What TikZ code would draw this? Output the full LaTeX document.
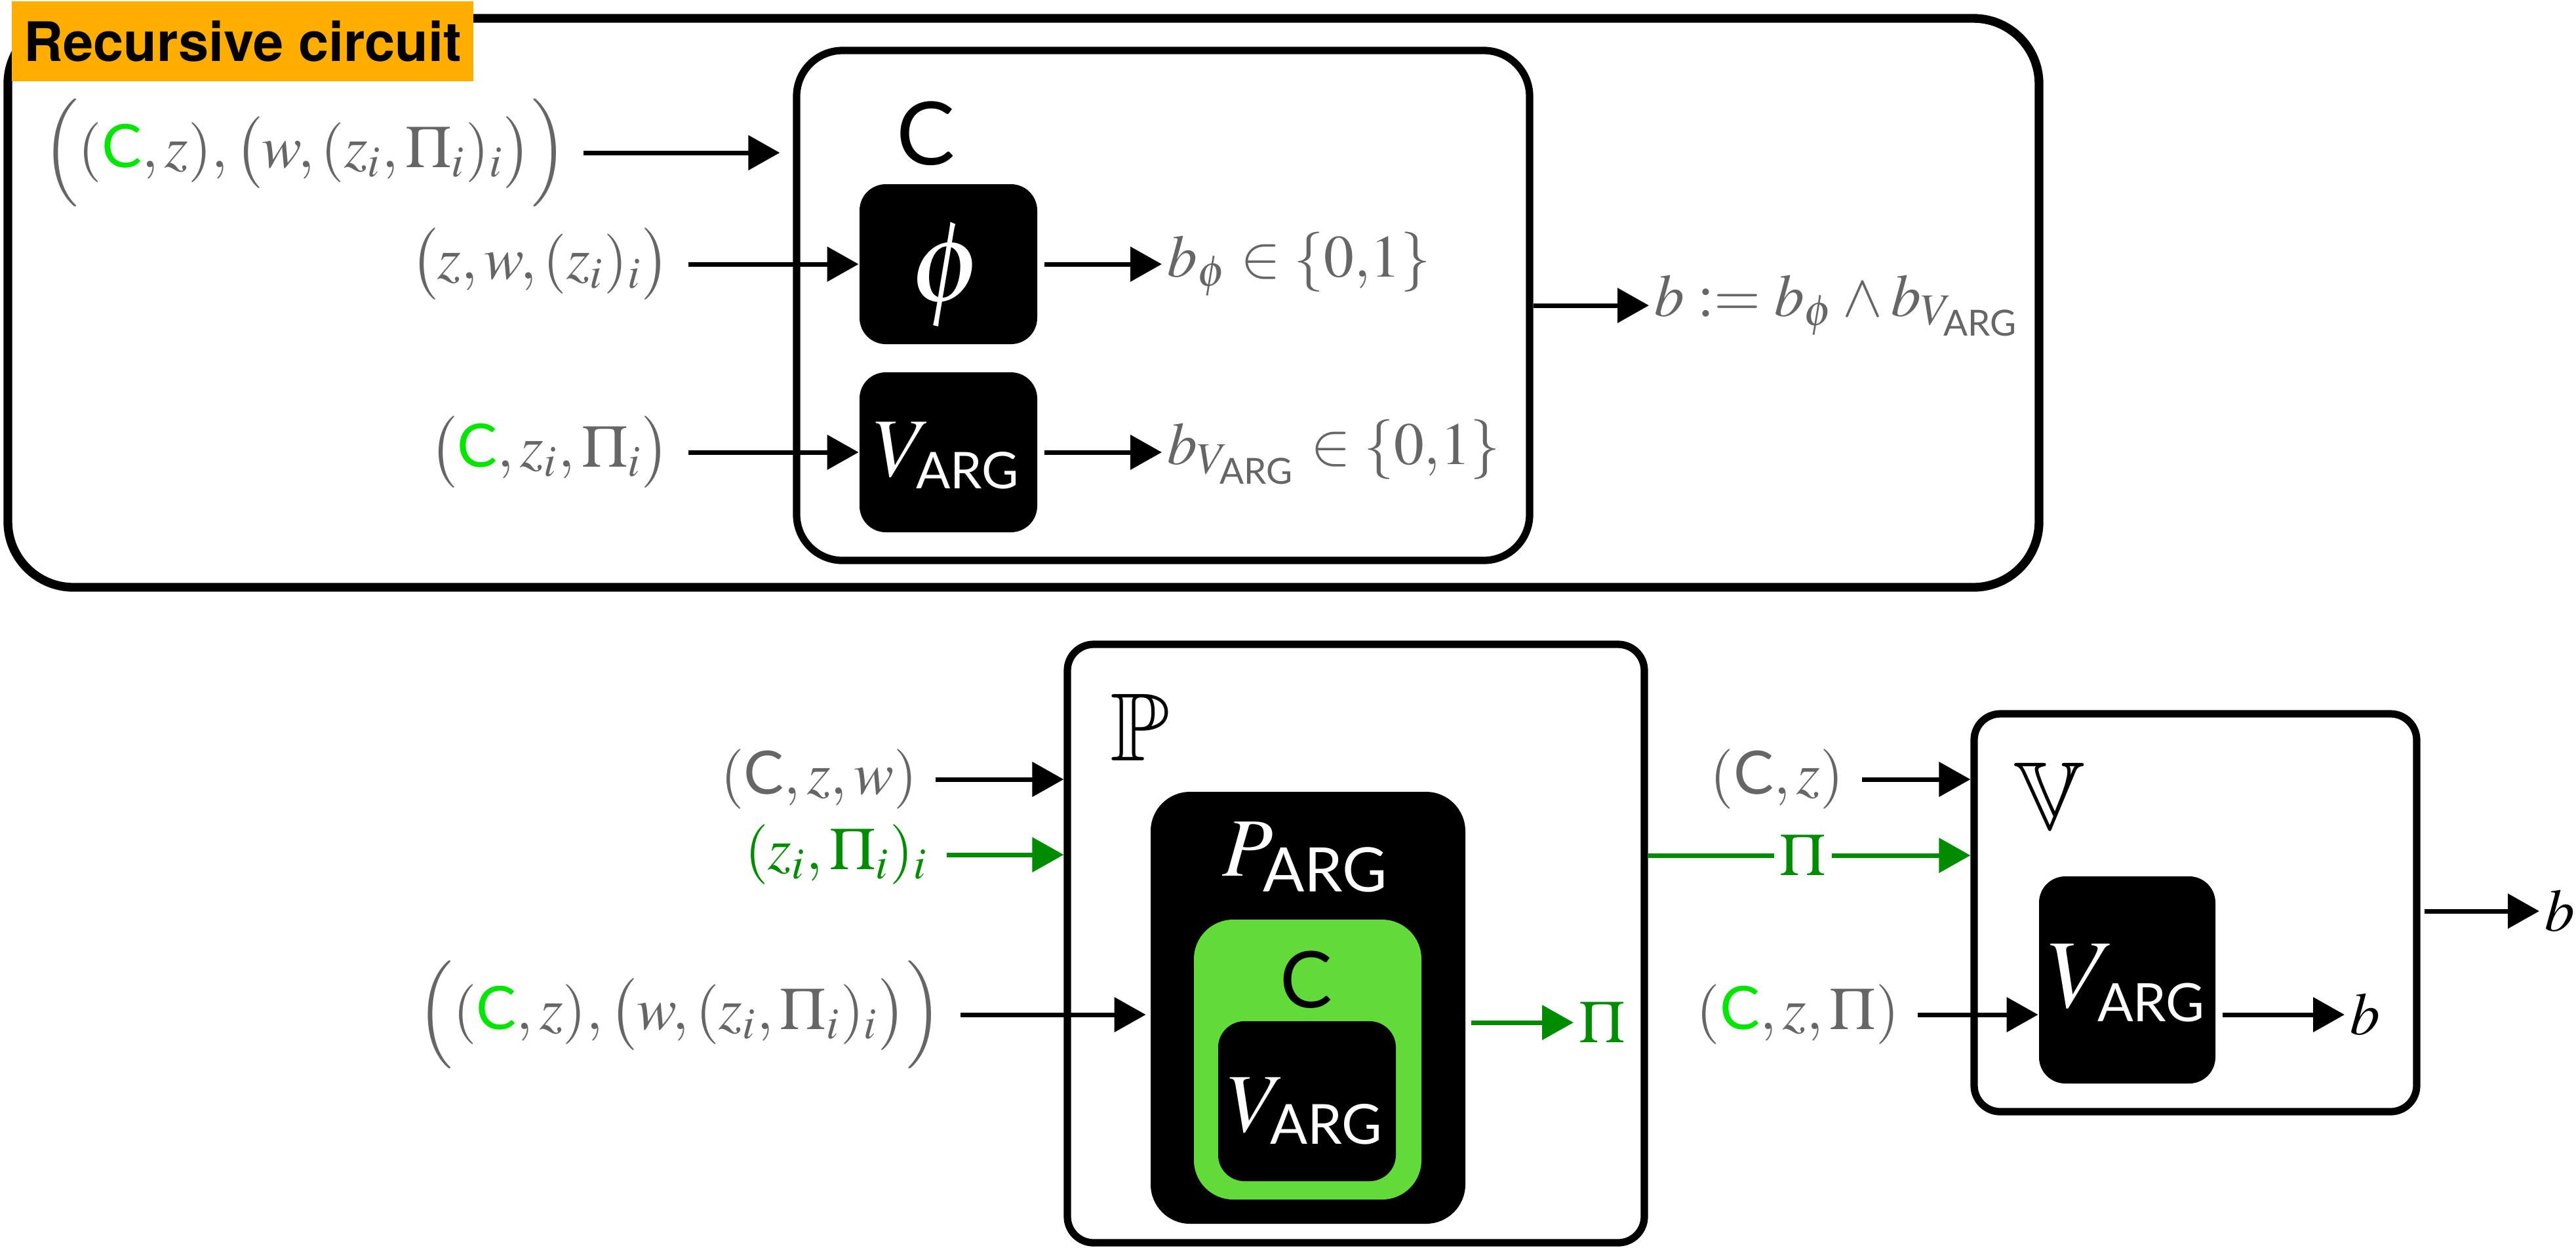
\documentclass[tikz,border=0pt]{standalone}
\usepackage{amsmath, amssymb}
\usepackage{mathptmx}
\usepackage[no-math]{fontspec}
\setsansfont{Lato}
\newfontfamily\tagfont{TeX Gyre Heros}
\usetikzlibrary{arrows.meta, fit}

\definecolor{txtgray}{HTML}{666666}
\definecolor{cgreen}{HTML}{00E600}
\definecolor{pigreen}{HTML}{008C00}
\definecolor{boxgreen}{HTML}{62DB3A}
\definecolor{tagorange}{HTML}{FFAE00}

\newcommand{\sC}{\textsf{C}}
\newcommand{\gC}{\textcolor{cgreen}{\textsf{C}}}
\newcommand{\ARG}{\textsf{ARG}}
% V_ARG inside a black box, subscript of a fixed size
\newcommand{\VARGbox}[1]{V_{\text{\sffamily\fontsize{#1}{#1}\selectfont ARG}}}

\begin{document}
\begin{tikzpicture}[x=0.5cm, y=-0.5cm,
  frame/.style={draw, line width=1.6pt, fill=white, inner sep=0pt},
  blk/.style={fill=black, inner sep=0pt},
  arr/.style={-{Triangle[length=2.4mm, width=2.6mm]}, line width=1pt, shorten <=1mm},
  garr/.style={arr, draw=pigreen, fill=pigreen},
  lbl/.style={text=txtgray, font=\fontsize{13}{15}\selectfont, inner sep=1pt},
  boxlbl/.style={text=white, inner sep=0pt, font=\fontsize{18}{21}\selectfont}]
\useasboundingbox (0,0) rectangle (39.29,19.03);
% top panel: the recursive circuit C
\node[frame, line width=1.9pt, rounded corners=5mm, fit={(0.12,0.28) (31.10,8.96)}] (outer) {};
\node[fill=tagorange, anchor=north west, minimum width=3.52cm, minimum height=0.61cm, inner sep=0pt,
  font=\tagfont\bfseries\fontsize{11.8}{13}\selectfont] (tag) at (0.17,0.01) {Recursive circuit};
\node[frame, rounded corners=3.5mm, fit={(12.15,0.77) (23.33,8.55)}] (boxC) {};
\node[inner sep=0pt, font=\fontsize{19}{22}\selectfont\sffamily] (cTop) at (14.12,2.04) {C};
\node[blk, rounded corners=2mm, fit={(13.11,2.81) (15.82,5.25)}] (phi) {};
\node[boxlbl, font=\fontsize{25}{28}\selectfont] at (14.44,4.20) {$\phi$};
\node[blk, rounded corners=2mm, fit={(13.11,5.68) (15.82,8.12)}] (vargC) {};
\node[boxlbl] at (14.45,6.95) {$\VARGbox{11}$};
% inputs of C
\node[lbl, inner sep=0.5pt, anchor=east] (inA) at (8.70,2.33) {$\Bigl( (\gC, z), \bigl( w, (z_i, \Pi_i)_i \bigr) \Bigr)$};
\node[lbl, anchor=east] (inB) at (10.30,4.03) {$\bigl( z, w, (z_i)_i \bigr)$};
\node[lbl, anchor=east] (inC) at (10.30,6.90) {$\bigl( \gC, z_i, \Pi_i \bigr)$};
\draw[arr, shorten >=1mm] (inA.east) -- (inA.east -| boxC.west);
\draw[arr] (inB.east) -- (inB.east -| phi.west);
\draw[arr] (inC.east) -- (inC.east -| vargC.west);
% outputs of C
\node[lbl, anchor=west] (outPhi) at (17.72,4.03) {$b_\phi \in \{0{,}1\}$};
\node[lbl, anchor=west] (outV) at (17.72,6.90) {$b_{V_{\ARG}} \in \{0{,}1\}$};
\node[lbl, anchor=west] (outB) at (25.15,4.66) {$b \mathrel{:=} b_\phi \wedge b_{V_{\ARG}}$};
\draw[arr, shorten <=0.5mm] (phi.east) -- (outPhi.west);
\draw[arr, shorten <=0.5mm] (vargC.east) -- (outV.west);
\draw[arr, shorten <=0pt] (boxC.east) -- (outB.west);
% prover P
\node[frame, rounded corners=2mm, fit={(16.28,9.83) (25.08,18.96)}] (boxP) {};
\node[font=\fontsize{21}{24}\selectfont] (pLbl) at (17.39,11.10) {$\mathbb{P}$};
\node[blk, rounded corners=3mm, fit={(17.55,12.08) (22.35,18.67)}] (parg) {};
\node[boxlbl] (pargLbl) at (19.92,13.08) {$P_{\ARG}$};
\node[fill=boxgreen, inner sep=0pt, rounded corners=3mm, fit={(18.21,14.03) (21.68,18.30)}] (cGreen) {};
\node[inner sep=0pt, font=\fontsize{17}{20}\selectfont\sffamily] (cLbl) at (19.92,14.95) {C};
\node[blk, rounded corners=2mm, fit={(18.58,15.58) (21.29,18.02)}] (vargP) {};
\node[boxlbl] at (19.92,16.95) {$\VARGbox{12}$};
\node[lbl, anchor=east] (inD) at (14.07,11.89) {$(\sC, z, w)$};
\node[lbl, anchor=east, text=pigreen] (inE) at (14.24,13.04) {$(z_i, \Pi_i)_i$};
\node[lbl, anchor=east] (inF) at (14.45,15.48) {$\Bigl( (\gC, z), \bigl( w, (z_i, \Pi_i)_i \bigr) \Bigr)$};
\draw[arr] (inD.east) -- (inD.east -| boxP.west);
\draw[garr] (inE.east) -- (inE.east -| boxP.west);
\draw[arr, shorten >=0.3mm] (inF.east) -- (inF.east -| parg.west);
\node[lbl, anchor=west, text=pigreen] (piOut) at (24.00,15.60) {$\Pi$};
\draw[garr, shorten <=0.4mm] (piOut.west -| parg.east) -- (piOut.west);
% proof passed on to V
\node[lbl, text=pigreen, fill=white] (piMid) at (27.50,13.05) {$\Pi$};
% verifier V
\node[frame, rounded corners=2mm, fit={(30.11,10.89) (36.86,16.96)}] (boxV) {};
\node[font=\fontsize{21}{24}\selectfont] (vLbl) at (31.26,12.15) {$\mathbb{V}$};
\node[blk, rounded corners=2mm, fit={(31.10,13.37) (33.79,16.53)}] (vargV) {};
\node[boxlbl, font=\fontsize{21}{24}\selectfont] at (32.45,15.00) {$\VARGbox{11.5}$};
\draw[garr, shorten <=0pt] (piMid -| boxP.east) -- (piMid) -- (piMid -| boxV.west);
\node[lbl, anchor=east] (inG) at (28.20,11.89) {$(\sC, z)$};
\node[lbl, anchor=east] (inH) at (29.05,15.48) {$(\gC, z, \Pi)$};
\draw[arr] (inG.east) -- (inG.east -| boxV.west);
\draw[arr] (inH.east) -- (inH.east -| vargV.west);
\node[lbl, text=black, anchor=west] (bIn) at (35.76,15.48) {$b$};
\node[lbl, text=black, anchor=west] (bOut) at (38.73,13.90) {$b$};
\draw[arr, shorten <=0.5mm] (bIn.west -| vargV.east) -- (bIn.west);
\draw[arr, shorten <=0.3mm] (bOut.west -| boxV.east) -- (bOut.west);
\end{tikzpicture}
\end{document}
